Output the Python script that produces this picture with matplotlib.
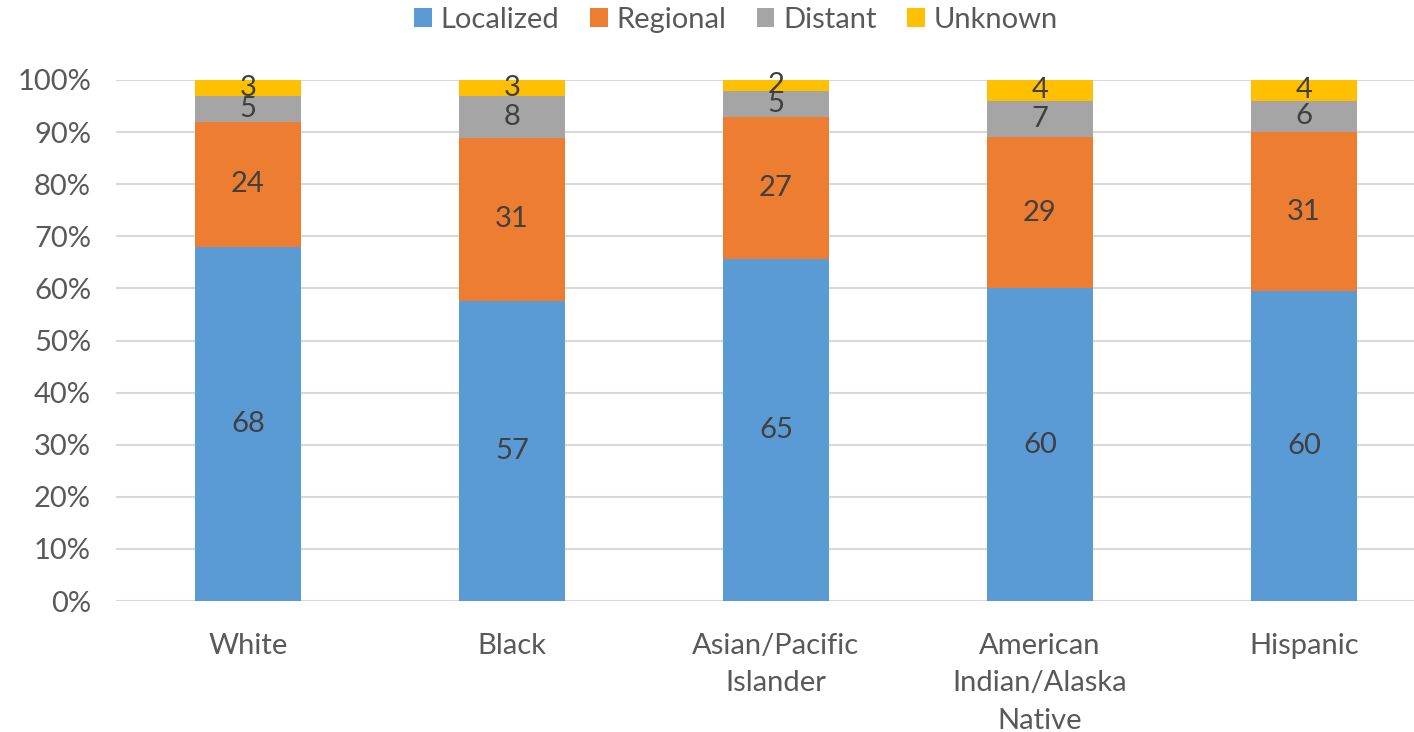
import numpy as np
import matplotlib.pyplot as plt

# Stage at diagnosis by race/ethnicity (percent)
groups = ["White", "Black", "Asian/Pacific\nIslander", "American\nIndian/Alaska\nNative", "Hispanic"]
stages = ["Localized", "Regional", "Distant", "Unknown"]
localized = [68, 57, 65, 60, 60]
regional = [24, 31, 27, 29, 31]
distant = [5, 8, 5, 7, 6]
unknown = [3, 3, 2, 4, 4]
colors = ["#5B9BD5", "#ED7D31", "#A5A5A5", "#FFC000"]

plt.rcParams['font.family'] = ['Lato', 'DejaVu Sans']

values = np.array([localized, regional, distant, unknown], dtype=float)
shares = values / values.sum(axis=0) * 100  # 100% stacked

fig = plt.figure(figsize=(14.14, 7.32), dpi=100)
ax = fig.add_axes([116 / 1414, 1 - 601 / 732, 1 - 116 / 1414, 521 / 732])

x = np.arange(len(groups))
bottom = np.zeros(len(groups))
for i, stage in enumerate(stages):
    bars = ax.bar(x, shares[i], 0.4, bottom=bottom, color=colors[i], label=stage, zorder=2)
    for xi, b, h, v in zip(x, bottom, shares[i], values[i]):
        ax.text(xi, b + h / 2, f"{v:.0f}", ha='center', va='center',
                fontsize=21, color='#404040', zorder=3)
    bottom += shares[i]

ax.set_xlim(-0.5, -0.5 + 1298 / 264)
ax.set_ylim(0, 100)
ax.set_yticks(range(0, 101, 10))
ax.set_yticklabels([f"{t}%" for t in range(0, 101, 10)])
ax.set_xticks(x)
ax.set_xticklabels(groups, linespacing=1.55)
ax.tick_params(axis='both', length=0, labelsize=21, labelcolor='#595959')
ax.tick_params(axis='x', pad=23)
ax.tick_params(axis='y', pad=18)
ax.yaxis.grid(True, color='#D9D9D9', linewidth=1.5, zorder=0)
for s in ax.spines.values():
    s.set_visible(False)

fig.legend(loc='center', bbox_to_anchor=(736 / 1414, 1 - 20 / 732), ncol=4, frameon=False,
           fontsize=21, labelcolor='#595959', handlelength=0.6, handleheight=0.6,
           handletextpad=0.3, columnspacing=1.05)

fig.savefig("out.png", dpi=100)
